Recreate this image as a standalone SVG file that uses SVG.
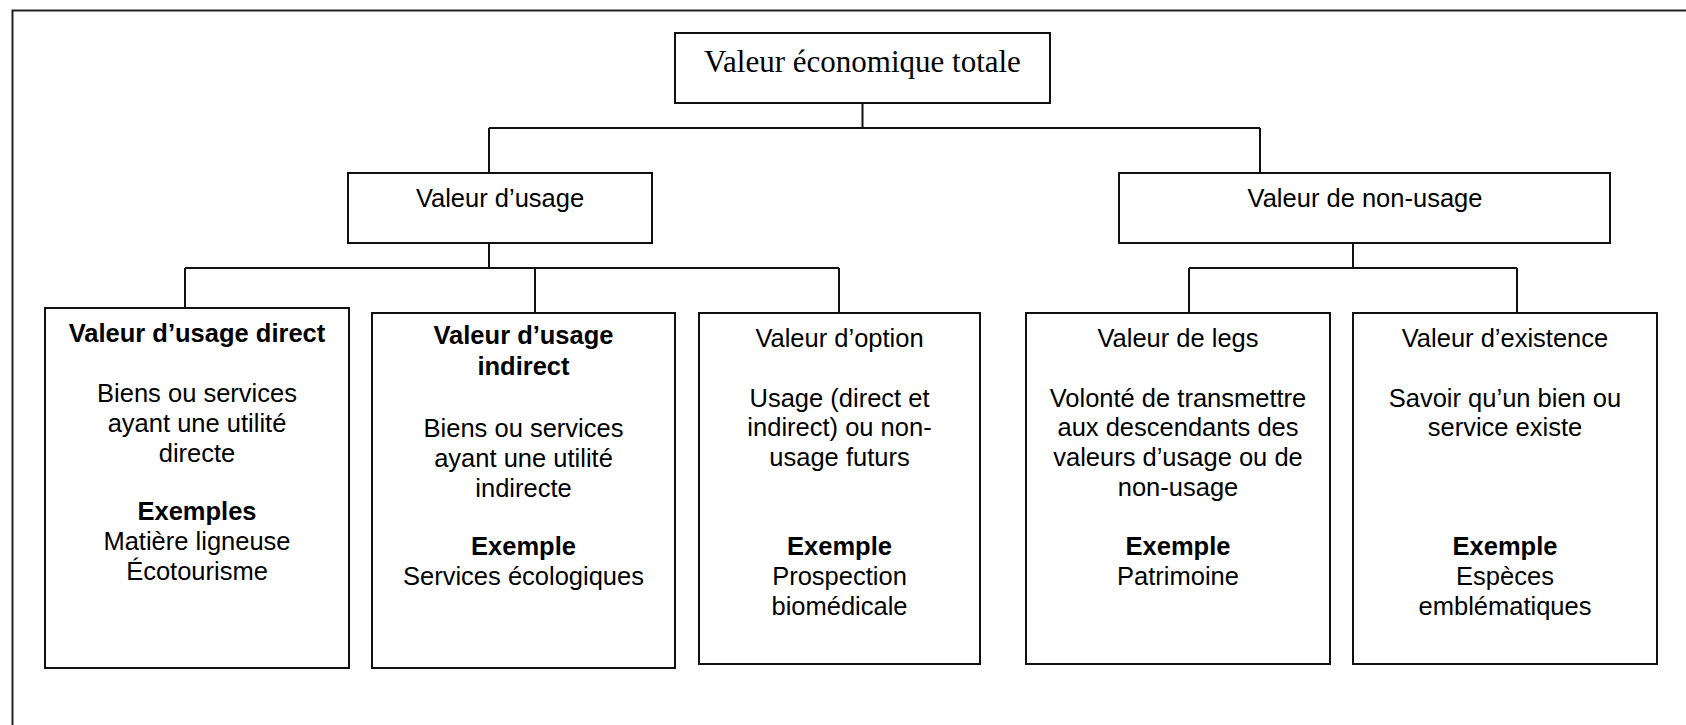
<svg xmlns="http://www.w3.org/2000/svg" width="1686" height="725" viewBox="0 0 1686 725">
<style>
.box{fill:#fff;stroke:#111;stroke-width:2}
.t{font-family:"Liberation Sans",Arial,sans-serif;font-size:25.5px;fill:#000;text-anchor:middle}
.b{font-weight:bold}
.serif{font-family:"Liberation Serif","Times New Roman",serif;font-size:31px;fill:#000;text-anchor:middle}
.conn{fill:none;stroke:#111;stroke-width:2}
</style>
<rect width="1686" height="725" fill="#fff"/>
<path d="M12.5 725 V10.5 H1686" fill="none" stroke="#222" stroke-width="2"/>
<g id="connectors" class="conn">
<path d="M862.5 103 V128"/>
<path d="M489 128 H1260"/>
<path d="M489 128 V173"/>
<path d="M1260 128 V173"/>
<path d="M489 243 V268"/>
<path d="M185 268 H839"/>
<path d="M185 268 V308"/>
<path d="M535 268 V313"/>
<path d="M839 268 V313"/>
<path d="M1353 243 V268"/>
<path d="M1189 268 H1517"/>
<path d="M1189 268 V313"/>
<path d="M1517 268 V313"/>
</g>
<g id="total">
<rect class="box" x="675" y="33" width="375" height="70"/>
<text class="serif" x="862.5" y="72">Valeur économique totale</text>
</g>
<g id="usage">
<rect class="box" x="348" y="173" width="304" height="70"/>
<text class="t" x="500" y="207">Valeur d’usage</text>
</g>
<g id="nonusage">
<rect class="box" x="1119" y="173" width="491" height="70"/>
<text class="t" x="1365" y="207">Valeur de non-usage</text>
</g>
<g id="direct">
<rect class="box" x="45" y="308" width="304" height="360"/>
<text class="t b" x="197" y="342">Valeur d’usage direct</text>
<text class="t" x="197" y="402">Biens ou services</text>
<text class="t" x="197" y="432">ayant une utilité</text>
<text class="t" x="197" y="462">directe</text>
<text class="t b" x="197" y="520">Exemples</text>
<text class="t" x="197" y="550">Matière ligneuse</text>
<text class="t" x="197" y="580">Écotourisme</text>
</g>
<g id="indirect">
<rect class="box" x="372" y="313" width="303" height="355"/>
<text class="t b" x="523.5" y="344">Valeur d’usage</text>
<text class="t b" x="523.5" y="375">indirect</text>
<text class="t" x="523.5" y="437">Biens ou services</text>
<text class="t" x="523.5" y="467">ayant une utilité</text>
<text class="t" x="523.5" y="497">indirecte</text>
<text class="t b" x="523.5" y="555">Exemple</text>
<text class="t" x="523.5" y="585">Services écologiques</text>
</g>
<g id="option">
<rect class="box" x="699" y="313" width="281" height="351"/>
<text class="t" x="839.5" y="347">Valeur d’option</text>
<text class="t" x="839.5" y="407">Usage (direct et</text>
<text class="t" x="839.5" y="436">indirect) ou non-</text>
<text class="t" x="839.5" y="466">usage futurs</text>
<text class="t b" x="839.5" y="555">Exemple</text>
<text class="t" x="839.5" y="585">Prospection</text>
<text class="t" x="839.5" y="615">biomédicale</text>
</g>
<g id="legs">
<rect class="box" x="1026" y="313" width="304" height="351"/>
<text class="t" x="1178" y="347">Valeur de legs</text>
<text class="t" x="1178" y="407">Volonté de transmettre</text>
<text class="t" x="1178" y="436">aux descendants des</text>
<text class="t" x="1178" y="466">valeurs d’usage ou de</text>
<text class="t" x="1178" y="496">non-usage</text>
<text class="t b" x="1178" y="555">Exemple</text>
<text class="t" x="1178" y="585">Patrimoine</text>
</g>
<g id="existence">
<rect class="box" x="1353" y="313" width="304" height="351"/>
<text class="t" x="1505" y="347">Valeur d’existence</text>
<text class="t" x="1505" y="407">Savoir qu’un bien ou</text>
<text class="t" x="1505" y="436">service existe</text>
<text class="t b" x="1505" y="555">Exemple</text>
<text class="t" x="1505" y="585">Espèces</text>
<text class="t" x="1505" y="615">emblématiques</text>
</g>
</svg>
